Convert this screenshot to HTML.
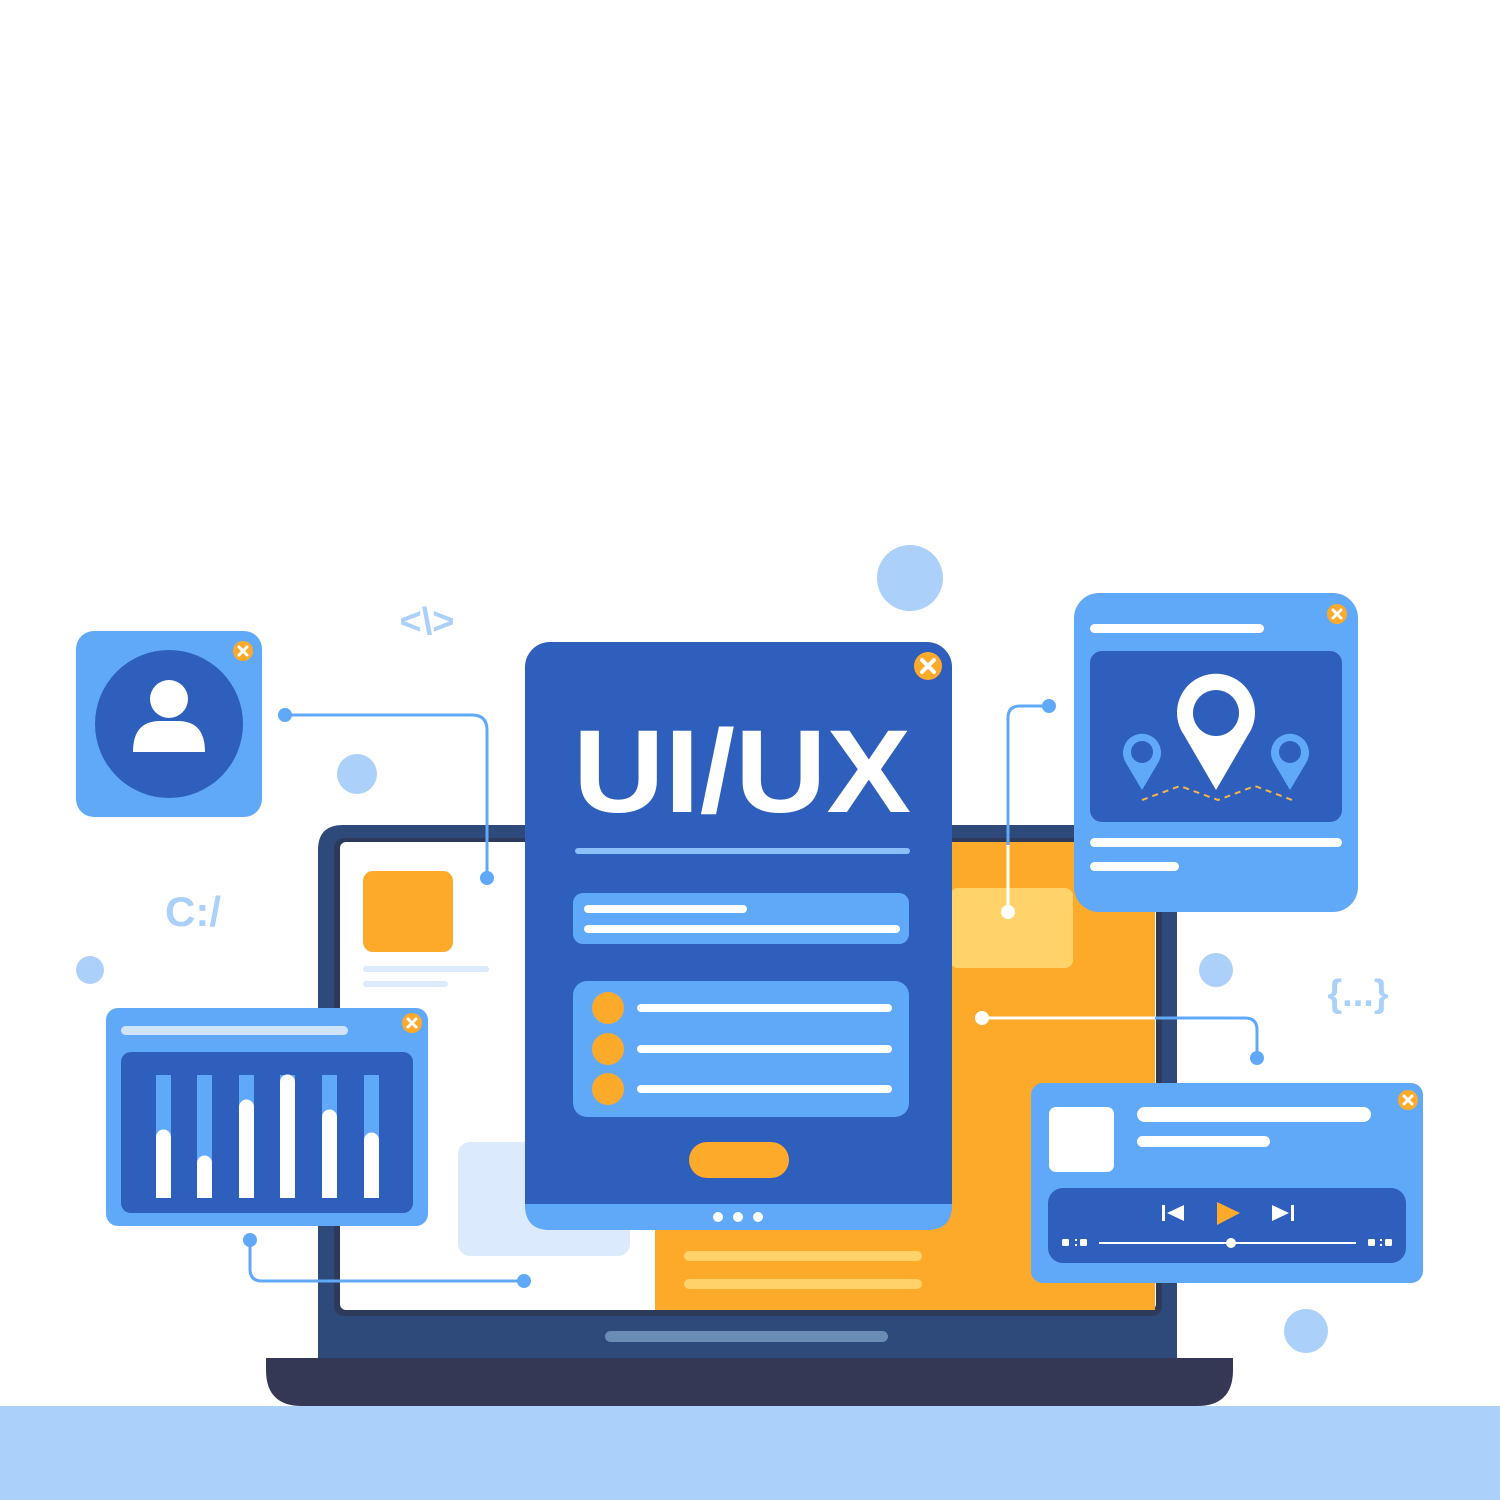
<!DOCTYPE html>
<html><head><meta charset="utf-8"><style>html,body{margin:0;padding:0;background:#fff}svg{display:block}</style></head>
<body>
<svg width="1500" height="1500" viewBox="0 0 1500 1500" xmlns="http://www.w3.org/2000/svg" font-family="Liberation Sans, sans-serif">
<rect width="1500" height="1500" fill="#fff"/>
<rect x="0" y="1406" width="1500" height="94" fill="#ABD0FA"/>
<!-- decorative circles -->
<circle cx="910" cy="578" r="33" fill="#ABD0FA"/>
<circle cx="357" cy="774" r="20" fill="#ABD0FA"/>
<circle cx="90" cy="970" r="14" fill="#ABD0FA"/>
<circle cx="1216" cy="970" r="17" fill="#ABD0FA"/>
<circle cx="1306" cy="1331" r="22" fill="#ABD0FA"/>
<text x="427" y="634" font-size="38" font-weight="bold" fill="#ABD0FA" text-anchor="middle">&lt;\&gt;</text>
<text x="193" y="926" font-size="42" font-weight="bold" fill="#ABD0FA" text-anchor="middle">C:/</text>
<text x="1358" y="1006" font-size="38" font-weight="bold" fill="#ABD0FA" text-anchor="middle">{...}</text>
<!-- laptop -->
<path d="M318 850 Q318 825 343 825 H1152 Q1177 825 1177 850 V1360 H318 Z" fill="#2D4A7A"/>
<rect x="334" y="838" width="828" height="478" rx="10" fill="#2E3A5C"/>
<rect x="340" y="842" width="816" height="468" rx="6" fill="#fff"/>
<rect x="655" y="842" width="500" height="468" fill="#FDAA2B"/>
<rect x="950" y="888" width="123" height="80" rx="8" fill="#FFD36A"/>
<rect x="458" y="1142" width="172" height="114" rx="12" fill="#DCEAFD"/>
<rect x="363" y="871" width="90" height="81" rx="10" fill="#FDAA2B"/>
<rect x="363" y="966" width="126" height="6" rx="3" fill="#DCEAFD"/>
<rect x="363" y="981" width="85" height="6" rx="3" fill="#DCEAFD"/>
<rect x="684" y="1251" width="238" height="10" rx="5" fill="#FFD36A"/>
<rect x="684" y="1279" width="238" height="10" rx="5" fill="#FFD36A"/>
<rect x="605" y="1331" width="283" height="11" rx="5.5" fill="#6B8CB4"/>
<path d="M266 1358 H1233 V1370 Q1233 1406 1197 1406 H302 Q266 1406 266 1370 Z" fill="#343855"/>
<!-- connectors -->
<g fill="none" stroke-width="3">
<path d="M285 715 H472 Q487 715 487 730 V878" stroke="#60A9F9"/>
<path d="M1049 706 H1020 Q1008 706 1008 718 V912" stroke="#60A9F9"/>
<path d="M1008 845 V912" stroke="#fff"/>
<path d="M982 1018 H1155" stroke="#fff"/>
<path d="M1155 1018 H1245 Q1257 1018 1257 1030 V1058" stroke="#60A9F9"/>
<path d="M250 1240 V1269 Q250 1281 262 1281 H524" stroke="#60A9F9"/>
</g>
<circle cx="285" cy="715" r="7" fill="#60A9F9"/><circle cx="487" cy="878" r="7" fill="#60A9F9"/>
<circle cx="1049" cy="706" r="7" fill="#60A9F9"/><circle cx="1008" cy="912" r="7" fill="#fff"/>
<circle cx="982" cy="1018" r="7" fill="#fff"/><circle cx="1257" cy="1058" r="7" fill="#60A9F9"/>
<circle cx="250" cy="1240" r="7" fill="#60A9F9"/><circle cx="524" cy="1281" r="7" fill="#60A9F9"/>
<!-- tablet -->
<rect x="525" y="642" width="427" height="588" rx="25" fill="#2F5FBC"/>
<path d="M525 1204 H952 V1205 Q952 1230 927 1230 H550 Q525 1230 525 1205 Z" fill="#60A9F9"/>
<circle cx="718" cy="1217" r="5" fill="#fff"/><circle cx="738" cy="1217" r="5" fill="#fff"/><circle cx="758" cy="1217" r="5" fill="#fff"/>
<text x="742" y="812" font-size="118" font-weight="bold" fill="#fff" text-anchor="middle" textLength="338" lengthAdjust="spacingAndGlyphs">UI/UX</text>
<rect x="575" y="848" width="335" height="6" rx="3" fill="#8CBEF8"/>
<rect x="573" y="893" width="336" height="51" rx="10" fill="#60A9F9"/>
<rect x="584" y="905" width="163" height="8" rx="4" fill="#fff"/>
<rect x="584" y="925" width="316" height="8" rx="4" fill="#fff"/>
<rect x="573" y="981" width="336" height="136" rx="14" fill="#60A9F9"/>
<circle cx="608" cy="1008" r="16" fill="#FDAA2B"/><circle cx="608" cy="1049" r="16" fill="#FDAA2B"/><circle cx="608" cy="1089" r="16" fill="#FDAA2B"/>
<rect x="637" y="1004" width="255" height="8" rx="4" fill="#fff"/>
<rect x="637" y="1045" width="255" height="8" rx="4" fill="#fff"/>
<rect x="637" y="1085" width="255" height="8" rx="4" fill="#fff"/>
<rect x="689" y="1142" width="100" height="36" rx="18" fill="#FDAA2B"/>
<g><circle cx="928" cy="666" r="14" fill="#FDAA2B"/><path d="M922 660 L934 672 M934 660 L922 672" stroke="#fff" stroke-width="4" stroke-linecap="round"/></g>
<!-- user card -->
<rect x="76" y="631" width="186" height="186" rx="18" fill="#60A9F9"/>
<circle cx="169" cy="724" r="74" fill="#2F5FBC"/>
<circle cx="169" cy="699" r="19" fill="#fff"/>
<path d="M133 752 Q133 721 160 721 H178 Q205 721 205 752 Z" fill="#fff"/>
<g><circle cx="243" cy="651" r="10" fill="#FDAA2B"/><path d="M239 647 L247 655 M247 647 L239 655" stroke="#fff" stroke-width="3" stroke-linecap="round"/></g>
<!-- map card -->
<rect x="1074" y="593" width="284" height="319" rx="25" fill="#60A9F9"/>
<rect x="1090" y="624" width="174" height="9" rx="4.5" fill="#fff"/>
<rect x="1090" y="651" width="252" height="171" rx="12" fill="#2F5FBC"/>
<rect x="1090" y="838" width="252" height="9" rx="4.5" fill="#fff"/>
<rect x="1090" y="862" width="89" height="9" rx="4.5" fill="#fff"/>
<path d="M1216 790 L1184 735 A39 39 0 1 1 1248 735 Z" fill="#fff"/>
<circle cx="1216" cy="713" r="23" fill="#2F5FBC"/>
<path d="M1142 790 L1126 763 A19 19 0 1 1 1158 763 Z" fill="#60A9F9"/>
<circle cx="1142" cy="752" r="11" fill="#2F5FBC"/>
<path d="M1290 790 L1274 763 A19 19 0 1 1 1306 763 Z" fill="#60A9F9"/>
<circle cx="1290" cy="752" r="11" fill="#2F5FBC"/>
<path d="M1142 800 L1180 786 L1218 800 L1255 786 L1292 800" fill="none" stroke="#F5B44A" stroke-width="2" stroke-dasharray="6 5"/>
<g><circle cx="1337" cy="614" r="10" fill="#FDAA2B"/><path d="M1333 610 L1341 618 M1341 610 L1333 618" stroke="#fff" stroke-width="3" stroke-linecap="round"/></g>
<!-- chart card -->
<rect x="106" y="1008" width="322" height="218" rx="12" fill="#60A9F9"/>
<rect x="121" y="1026" width="227" height="9" rx="4.5" fill="#CFE3FB"/>
<rect x="121" y="1052" width="292" height="161" rx="10" fill="#2F5FBC"/>
<g fill="#60A9F9">
<rect x="156" y="1075" width="15" height="123"/><rect x="197" y="1075" width="15" height="123"/><rect x="239" y="1075" width="15" height="123"/><rect x="280" y="1075" width="15" height="123"/><rect x="322" y="1075" width="15" height="123"/><rect x="364" y="1075" width="15" height="123"/>
</g>
<g fill="#fff">
<path d="M156 1198 V1137 A7.5 7.5 0 0 1 171 1137 V1198 Z"/>
<path d="M197 1198 V1163 A7.5 7.5 0 0 1 212 1163 V1198 Z"/>
<path d="M239 1198 V1107 A7.5 7.5 0 0 1 254 1107 V1198 Z"/>
<path d="M280 1198 V1082 A7.5 7.5 0 0 1 295 1082 V1198 Z"/>
<path d="M322 1198 V1117 A7.5 7.5 0 0 1 337 1117 V1198 Z"/>
<path d="M364 1198 V1140 A7.5 7.5 0 0 1 379 1140 V1198 Z"/>
</g>
<g><circle cx="412" cy="1023" r="10" fill="#FDAA2B"/><path d="M408 1019 L416 1027 M416 1019 L408 1027" stroke="#fff" stroke-width="3" stroke-linecap="round"/></g>
<!-- player card -->
<rect x="1031" y="1083" width="392" height="200" rx="12" fill="#60A9F9"/>
<rect x="1049" y="1107" width="65" height="65" rx="7" fill="#fff"/>
<rect x="1137" y="1107" width="234" height="15" rx="7.5" fill="#fff"/>
<rect x="1137" y="1136" width="133" height="11" rx="5.5" fill="#fff"/>
<rect x="1048" y="1188" width="358" height="75" rx="15" fill="#2F5FBC"/>
<rect x="1162" y="1205" width="3" height="16" fill="#fff"/><path d="M1184 1205 V1221 L1167 1213 Z" fill="#fff"/>
<path d="M1217 1202 V1225 L1240 1213 Z" fill="#FDAA2B"/>
<path d="M1272 1205 V1221 L1289 1213 Z" fill="#fff"/><rect x="1291" y="1205" width="3" height="16" fill="#fff"/>
<rect x="1062" y="1239" width="7" height="7" rx="1.5" fill="#fff"/><rect x="1075" y="1239" width="2" height="2" fill="#fff"/><rect x="1075" y="1244" width="2" height="2" fill="#fff"/><rect x="1080" y="1239" width="7" height="7" rx="1.5" fill="#fff"/>
<rect x="1368" y="1239" width="7" height="7" rx="1.5" fill="#fff"/><rect x="1380" y="1239" width="2" height="2" fill="#fff"/><rect x="1380" y="1244" width="2" height="2" fill="#fff"/><rect x="1385" y="1239" width="7" height="7" rx="1.5" fill="#fff"/>
<rect x="1099" y="1242" width="257" height="2" fill="#fff"/>
<circle cx="1231" cy="1243" r="5" fill="#fff"/>
<g><circle cx="1408" cy="1100" r="10" fill="#FDAA2B"/><path d="M1404 1096 L1412 1104 M1412 1096 L1404 1104" stroke="#fff" stroke-width="3" stroke-linecap="round"/></g>
</svg>
</body></html>
